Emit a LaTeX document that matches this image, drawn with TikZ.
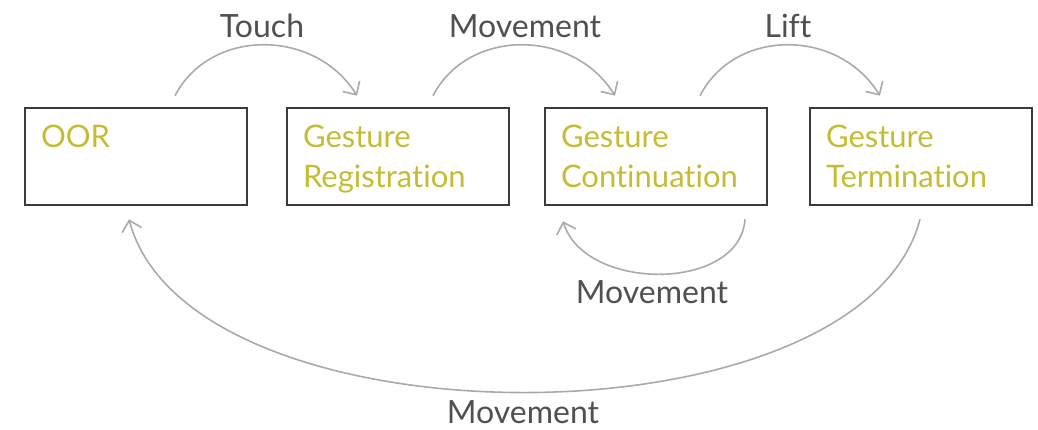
\documentclass[tikz,border=0pt]{standalone}
\usepackage{fontspec}
\setmainfont{Lato}[Ligatures=NoCommon]
\usetikzlibrary{arrows.meta}
\definecolor{stateink}{RGB}{196,188,52}
\definecolor{boxline}{RGB}{58,58,58}
\definecolor{arcline}{RGB}{170,170,170}
\definecolor{labelink}{RGB}{80,80,80}
% taller first line sets the two-line state names a little lower in the box
\newcommand{\toprule}{\rule{0pt}{35pt}}
\begin{document}
\begin{tikzpicture}[x=1pt,y=-1pt,
  statebox/.style={draw=boxline,line width=2.6pt,minimum width=222pt,minimum height=97pt,
    inner xsep=16pt,inner ysep=0pt,text width=190pt,align=left,text=stateink,
    font=\fontsize{31}{40}\selectfont},
  flow/.style={draw=arcline,line width=1.6pt,-{Straight Barb[length=10pt,width=20pt]}},
  flowlabel/.style={text=labelink,font=\fontsize{32}{36}\selectfont}]
\useasboundingbox (0,0) rectangle (1038,430);
% states
\node[statebox] (oor)  at (136,156.5) {\toprule OOR\\\strut};
\node[statebox] (reg)  at (398,156.5) {\toprule Gesture\\Registration\strut};
\node[statebox] (cont) at (656,156.5) {\toprule Gesture\\Continuation\strut};
\node[statebox] (term) at (921,156.5) {\toprule Gesture\\Termination\strut};
% transitions over the top
\draw[flow] ([xshift=39pt,yshift=11pt]oor.north) .. controls (210,28) and (315,28) .. ([xshift=-41pt,yshift=11pt]reg.north);
\draw[flow] ([xshift=35pt,yshift=11pt]reg.north) .. controls (468,28) and (573,28) .. ([xshift=-41pt,yshift=11pt]cont.north);
\draw[flow] ([xshift=44pt,yshift=11pt]cont.north) .. controls (735,28) and (838,28) .. ([xshift=-41pt,yshift=11pt]term.north);
% self loop and return arc underneath
\draw[flow] ([xshift=89pt,yshift=-13pt]cont.south) .. controls (740,292) and (585,292) .. ([xshift=-93pt,yshift=-15pt]cont.south);
\draw[flow] ([xshift=-1pt,yshift=-13pt]term.south) .. controls (860,450) and (190,450) .. ([xshift=-7pt,yshift=-13pt]oor.south);
% labels
\node[flowlabel] (ltouch) at (262,26) {Touch};
\node[flowlabel] (lmove1) at (525,26) {Movement};
\node[flowlabel] (llift)  at (788,26) {Lift};
\node[flowlabel] (lmove2) at (652,292) {Movement};
\node[flowlabel] (lmove3) at (523,412) {Movement};
\end{tikzpicture}
\end{document}
